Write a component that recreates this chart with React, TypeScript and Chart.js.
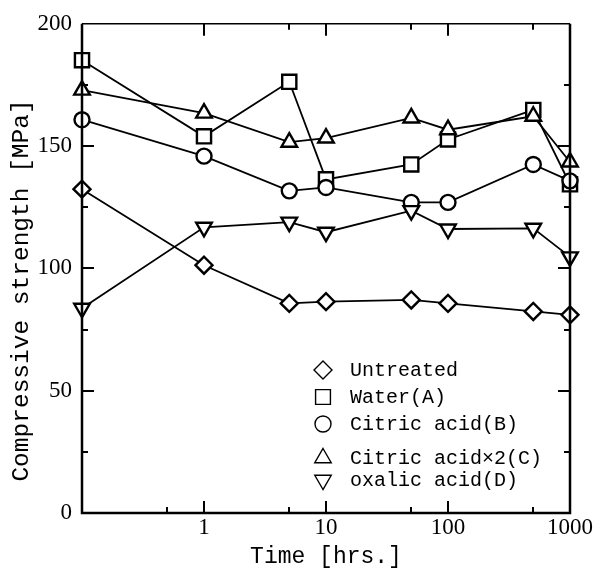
import React, { useEffect, useRef } from 'react';
import { Chart, registerables } from 'chart.js';

Chart.register(...registerables);

const times = [0.1, 1, 5, 10, 50, 100, 500, 1000];
const untreated = [132.4, 101.3, 85.7, 86.4, 87.1, 85.7, 82.4, 81.0];
const waterA = [185.1, 154.0, 176.3, 136.4, 142.5, 152.7, 164.8, 134.4];
const citricB = [160.8, 145.9, 131.7, 133.1, 127.0, 127.0, 142.5, 135.8];
const citric2C = [172.9, 163.5, 151.6, 153.3, 161.5, 156.7, 162.2, 143.5];
const oxalicD = [83.7, 116.8, 118.9, 114.8, 123.6, 116.1, 116.4, 104.7];

const seriesLabels = ['Untreated', 'Water(A)', 'Citric acid(B)', 'Citric acid×2(C)', 'oxalic acid(D)'];
const xTickValues = [0.1, 0.5, 1, 5, 10, 50, 100, 500, 1000];
const xTickLabels = ['', '', '1', '', '10', '', '100', '', '1000'];
const yTickValues = [0, 25, 50, 75, 100, 125, 150, 175, 200];
const yTickLabels = ['0', '', '50', '', '100', '', '150', '', '200'];

const MONO = '"Liberation Mono", monospace';
const SERIF = '"Liberation Serif", serif';

type Shape = { style: string; rotation: number; radius: number; legendRadius: number };
const shapes: Shape[] = [
  { style: 'rectRot', rotation: 0, radius: 8.5, legendRadius: 9 },
  { style: 'rect', rotation: 0, radius: 10, legendRadius: 10.5 },
  { style: 'circle', rotation: 0, radius: 7.5, legendRadius: 8 },
  { style: 'triangle', rotation: 0, radius: 9, legendRadius: 9.5 },
  { style: 'triangle', rotation: 180, radius: 9, legendRadius: 9.5 },
];

function drawShape(ctx: CanvasRenderingContext2D, style: string, rotation: number, r: number, x: number, y: number) {
  ctx.beginPath();
  if (style === 'circle') {
    ctx.arc(x, y, r, 0, Math.PI * 2);
  } else if (style === 'rect') {
    const s = Math.SQRT1_2 * r;
    ctx.rect(x - s, y - s, 2 * s, 2 * s);
  } else if (style === 'rectRot') {
    ctx.moveTo(x, y - r);
    ctx.lineTo(x + r, y);
    ctx.lineTo(x, y + r);
    ctx.lineTo(x - r, y);
    ctx.closePath();
  } else if (style === 'triangle') {
    let rad = (rotation * Math.PI) / 180;
    ctx.moveTo(x + Math.sin(rad) * r, y - Math.cos(rad) * r);
    rad += (2 * Math.PI) / 3;
    ctx.lineTo(x + Math.sin(rad) * r, y - Math.cos(rad) * r);
    rad += (2 * Math.PI) / 3;
    ctx.lineTo(x + Math.sin(rad) * r, y - Math.cos(rad) * r);
    ctx.closePath();
  }
}

const frameTicksPlugin = {
  id: 'frameTicks',
  afterDraw(chart: any) {
    const { ctx, chartArea } = chart;
    const { left, right, top, bottom } = chartArea;
    const xs = chart.scales.x;
    const ys = chart.scales.y;
    ctx.save();
    ctx.strokeStyle = '#000';
    ctx.lineWidth = 2;
    xTickValues.forEach((v, i) => {
      if (i === 0 || i === xTickValues.length - 1) return;
      const px = Math.round(xs.getPixelForValue(v));
      const len = xTickLabels[i] ? 12 : 6;
      ctx.beginPath();
      ctx.moveTo(px, bottom);
      ctx.lineTo(px, bottom - len);
      if (v > 0.5) {
        ctx.moveTo(px, top);
        ctx.lineTo(px, top + len);
      }
      ctx.stroke();
    });
    yTickValues.forEach((v, i) => {
      if (i === 0 || i === yTickValues.length - 1) return;
      const py = Math.round(ys.getPixelForValue(v));
      const len = yTickLabels[i] ? 12 : 6;
      ctx.beginPath();
      ctx.moveTo(left, py);
      ctx.lineTo(left + len, py);
      ctx.moveTo(right, py);
      ctx.lineTo(right - len, py);
      ctx.stroke();
    });
    ctx.lineWidth = 2.5;
    ctx.beginPath();
    ctx.moveTo(left, top);
    ctx.lineTo(left, bottom);
    ctx.lineTo(right, bottom);
    ctx.lineTo(right, top);
    ctx.stroke();
    ctx.lineWidth = 1.5;
    ctx.beginPath();
    ctx.moveTo(left, top);
    ctx.lineTo(right, top);
    ctx.stroke();

    const rowsY = [143, 116, 89, 55, 33];
    const markerX = right - 247;
    const textX = right - 220;
    ctx.fillStyle = '#000';
    ctx.font = `20px ${MONO}`;
    ctx.textBaseline = 'middle';
    ctx.textAlign = 'left';
    seriesLabels.forEach((label, i) => {
      const y = bottom - rowsY[i];
      const sh = shapes[i];
      ctx.lineWidth = 1.4;
      drawShape(ctx, sh.style, sh.rotation, sh.legendRadius, markerX, y);
      ctx.stroke();
      ctx.fillText(label, textX, y + 1);
    });
    ctx.restore();
  },
};

const seriesData = [untreated, waterA, citricB, citric2C, oxalicD];

export default function App() {
  const canvasRef = useRef<HTMLCanvasElement | null>(null);

  useEffect(() => {
    const canvas = canvasRef.current;
    if (!canvas) return;
    const datasets = seriesData.map((vals, i) => ({
      label: seriesLabels[i],
      data: vals.map((v, j) => ({ x: times[j], y: v })),
      borderColor: '#000',
      borderWidth: 1.8,
      backgroundColor: '#fff',
      pointStyle: shapes[i].style as any,
      pointRotation: shapes[i].rotation,
      pointRadius: shapes[i].radius,
      pointBorderWidth: 2.4,
      pointBorderColor: '#000',
      pointBackgroundColor: '#fff',
      tension: 0,
      clip: false as any,
      order: 4 - i,
    }));

    const chart = new Chart(canvas, {
      type: 'line',
      data: { datasets },
      options: {
        responsive: false,
        animation: false,
        devicePixelRatio: 1,
        layout: { padding: { left: 0, right: 27, top: 20, bottom: 0 } },
        plugins: {
          legend: { display: false },
          tooltip: { enabled: false },
        },
        scales: {
          x: {
            type: 'logarithmic',
            min: 0.1,
            max: 1000,
            afterBuildTicks: (scale: any) => {
              scale.ticks = xTickValues.map((v) => ({ value: v }));
            },
            afterFit: (scale: any) => {
              scale.height = 56;
            },
            ticks: {
              autoSkip: false,
              maxRotation: 0,
              color: '#000',
              font: { family: SERIF, size: 23 },
              padding: 1,
              callback: (_v: any, i: number) => xTickLabels[i],
            },
            grid: { display: true, drawOnChartArea: false, drawTicks: false, color: 'rgba(0,0,0,0)' },
            border: { display: false },
            title: {
              display: true,
              text: 'Time [hrs.]',
              color: '#000',
              font: { family: MONO, size: 23 },
              padding: { top: 0, bottom: -2 },
            },
          },
          y: {
            type: 'linear',
            min: 0,
            max: 200,
            afterBuildTicks: (scale: any) => {
              scale.ticks = yTickValues.map((v) => ({ value: v }));
            },
            afterFit: (scale: any) => {
              scale.width = 82;
            },
            ticks: {
              autoSkip: false,
              color: '#000',
              font: { family: SERIF, size: 23 },
              padding: 10,
              callback: (_v: any, i: number) => yTickLabels[i],
            },
            grid: { display: true, drawOnChartArea: false, drawTicks: false, color: 'rgba(0,0,0,0)' },
            border: { display: false },
            title: {
              display: true,
              text: 'Compressive strength [MPa]   ',
              color: '#000',
              font: { family: MONO, size: 24.5 },
              padding: { top: 7, bottom: 0 },
            },
          },
        },
      },
      plugins: [frameTicksPlugin],
    });
    return () => chart.destroy();
  }, []);

  return (
    <div style={{ position: 'fixed', left: 0, top: 0, width: 597, height: 569, background: '#fff' }}>
      <canvas ref={canvasRef} width={597} height={569} style={{ display: 'block', width: 597, height: 569 }} />
    </div>
  );
}
